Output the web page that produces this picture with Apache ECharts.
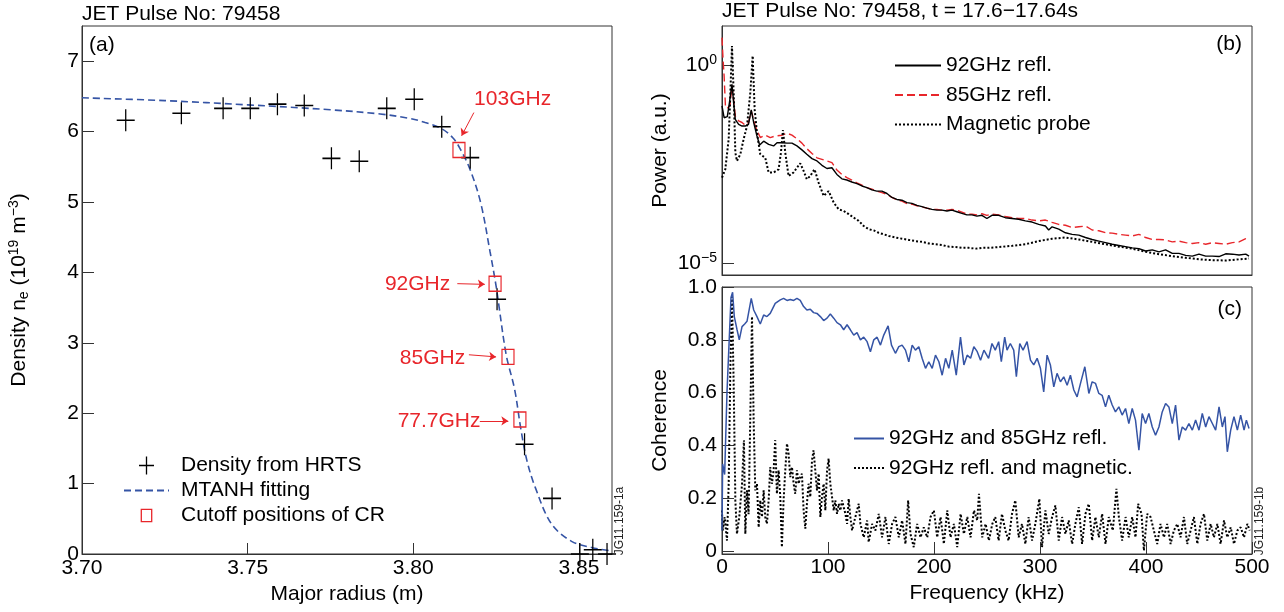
<!DOCTYPE html>
<html>
<head>
<meta charset="utf-8">
<title>JET Pulse No: 79458</title>
<script src="https://cdn.jsdelivr.net/npm/echarts@6/dist/echarts.min.js"></script>
<style>
    html, body { margin: 0; padding: 0; background: #fff; }
    #chart { width: 1284px; height: 612px; }
</style>
</head>
<body>
<div id="chart"></div>
<script>
(function () {

    'use strict';

    // ---- (a) density profile ----
    // HRTS points: major radius (m) / density (1e19 m^-3)
    var hrtsR = [3.7132, 3.7300, 3.7426, 3.7508, 3.7590, 3.7671, 3.7753, 3.7837, 3.7920,
        3.8003, 3.8086, 3.8172, 3.8253, 3.8336, 3.8419, 3.8503, 3.8542, 3.8585];
    var hrtsNe = [6.16, 6.26, 6.33, 6.33, 6.39, 6.37, 5.62, 5.58, 6.33,
        6.46, 6.07, 5.63, 3.62, 1.56, 0.79, 0.00, 0.06, 0.00];

    // MTANH fit
    var fitR = [3.700, 3.725, 3.750, 3.775, 3.790, 3.7986, 3.8036, 3.8086, 3.812, 3.814, 3.817,
        3.8203, 3.8232, 3.825, 3.8257, 3.8281, 3.8306, 3.8325, 3.8343, 3.8368, 3.8417, 3.8478, 3.854, 3.859];
    var fitNe = [6.48, 6.44, 6.38, 6.31, 6.25, 6.19, 6.13, 6.04, 5.91, 5.77, 5.48,
        5.00, 4.29, 3.81, 3.58, 2.82, 2.34, 1.77, 1.33, 0.95, 0.43, 0.18, 0.09, 0.05];

    // cutoff positions of the reflectometer channels
    var cutoffNames = ['103GHz', '92GHz', '85GHz', '77.7GHz'];
    var cutoffR = [3.8138, 3.8247, 3.8286, 3.8322];
    var cutoffNe = [5.74, 3.84, 2.80, 1.91];

    // where each channel name sits, and its arrow (data units)
    var noteR = [3.8300, 3.8013, 3.8058, 3.8078];
    var noteNe = [6.46, 3.83, 2.78, 1.89];
    var arrowFrom = [[3.8183, 6.27], [3.8133, 3.84], [3.8168, 2.83], [3.8201, 1.89]];
    var arrowTo = [[3.8146, 5.94], [3.8216, 3.83], [3.8250, 2.80], [3.8287, 1.89]];

    var radiusTicks = [3.70, 3.75, 3.80, 3.85];
    var densityTicks = [0, 1, 2, 3, 4, 5, 6, 7];

    // ---- (b) power spectra, [kHz, log10 power] ----
    var spec92 = [[0, -1.03], [2, -1.33], [5, -1.30], [7, -0.95], [9.4, -0.49], [11, -0.95], [12.5, -1.37],
        [15.7, -1.50], [18.9, -1.54], [22, -1.54], [25, -1.50], [27.6, -1.13], [29.9, -1.45], [33, -1.79],
        [35.5, -2.02], [39.3, -1.92], [44, -2.00], [48.7, -2.04], [51.9, -1.96], [56.6, -1.96], [61.3, -1.97],
        [66, -1.97], [70.7, -2.04], [75.4, -2.14], [80, -2.25], [84.9, -2.36], [89.6, -2.42], [94.3, -2.53],
        [99, -2.61], [103.7, -2.59], [108.4, -2.76], [113.1, -2.87], [117.8, -2.90], [122.5, -2.95],
        [127.3, -2.99], [132, -3.05], [136.7, -3.09], [141.4, -3.15], [146, -3.18], [150.9, -3.18],
        [155.6, -3.24], [160.3, -3.34], [165, -3.39], [169.7, -3.41], [174.5, -3.47], [179.2, -3.49],
        [183.9, -3.54], [188.6, -3.57], [193.3, -3.61], [198, -3.64], [202.8, -3.66], [207.5, -3.66],
        [212.2, -3.68], [216.9, -3.66], [221.6, -3.70], [226.3, -3.74], [231, -3.78], [235.8, -3.78],
        [240.5, -3.81], [245.2, -3.79], [249.9, -3.87], [254.6, -3.79], [261, -3.79], [267.3, -3.85],
        [273.6, -3.87], [279.9, -3.89], [286.2, -3.93], [292.5, -3.96], [298.8, -4.02], [305.1, -4.06],
        [308.2, -4.16], [311.4, -4.08], [317.7, -4.14], [324, -4.23], [330.3, -4.27], [336.6, -4.29],
        [342.9, -4.35], [349.2, -4.40], [355.5, -4.44], [361.8, -4.48], [368.1, -4.52], [374.4, -4.55],
        [380.7, -4.58], [387, -4.61], [393.3, -4.63], [399.6, -4.69], [405.9, -4.66], [412.2, -4.71],
        [418.5, -4.66], [424.8, -4.75], [431.1, -4.75], [437.4, -4.80], [443.7, -4.82], [450, -4.77],
        [456.3, -4.82], [462.6, -4.82], [468.9, -4.83], [475.2, -4.76], [481.5, -4.77], [487.8, -4.79],
        [494.1, -4.77], [497.2, -4.82]];

    var spec85 = [[0, 0.69], [1, 0.14], [2, -0.28], [3.3, -1.08], [5.4, -1.08], [7.5, -1.03], [9.4, -0.51],
        [11.5, -1.03], [12.6, -1.29], [15.7, -1.41], [18.9, -1.45], [22, -1.52], [25, -1.45], [27.6, -1.16],
        [31.4, -1.54], [36.1, -1.83], [40.8, -1.77], [45.5, -1.83], [50.2, -1.79], [56.6, -1.77], [61.3, -1.72],
        [66, -1.77], [70.7, -1.86], [75.4, -1.97], [80, -2.11], [84.9, -2.23], [89.6, -2.34], [94.3, -2.38],
        [99, -2.42], [103.7, -2.46], [108.4, -2.65], [113.1, -2.76], [117.8, -2.84], [122.5, -2.90],
        [127.3, -2.97], [132, -3.03], [136.7, -3.09], [141.4, -3.13], [146, -3.18], [150.9, -3.22],
        [155.6, -3.26], [160.3, -3.34], [165, -3.40], [169.7, -3.43], [174.5, -3.50], [179.2, -3.51],
        [183.9, -3.55], [188.6, -3.58], [193.3, -3.61], [198, -3.64], [202.8, -3.64], [207.5, -3.66],
        [212.2, -3.66], [216.9, -3.64], [221.6, -3.66], [226.3, -3.71], [231, -3.76], [235.8, -3.76],
        [240.5, -3.78], [245.2, -3.75], [249.9, -3.79], [254.6, -3.76], [261, -3.78], [267.3, -3.82],
        [273.6, -3.85], [279.9, -3.87], [286.2, -3.87], [292.5, -3.91], [298.8, -3.93], [305.1, -3.91],
        [311.4, -3.97], [317.7, -4.02], [324, -4.04], [330.3, -4.10], [336.6, -4.08], [342.9, -4.06],
        [349.2, -4.16], [355.5, -4.18], [361.8, -4.23], [368.1, -4.24], [374.4, -4.27], [380.7, -4.29],
        [387, -4.31], [393.3, -4.27], [399.6, -4.35], [405.9, -4.40], [412.2, -4.40], [418.5, -4.41],
        [424.8, -4.46], [431.1, -4.44], [437.4, -4.48], [443.7, -4.50], [450, -4.48], [456.3, -4.52],
        [462.6, -4.48], [468.9, -4.50], [475.2, -4.52], [481.5, -4.48], [487.8, -4.46], [494.1, -4.38],
        [497.2, -4.44]];

    var specMag = [[0, -2.84], [3.1, -2.63], [6.3, -1.87], [7.9, -0.70], [9.4, 0.48], [11, -0.70], [12.6, -2.21],
        [14.1, -2.42], [17.3, -2.25], [20.4, -1.87], [23.6, -1.54], [26.7, -0.70], [28.9, 0.23], [30.8, -1.12],
        [33, -1.71], [36.1, -2.25], [40.8, -2.34], [44, -2.71], [48.7, -2.71], [53.4, -2.63], [55.6, -2.21],
        [57.5, -1.64], [59.7, -2.21], [62.8, -2.80], [67.5, -2.71], [70.7, -2.59], [73.8, -2.48], [77, -2.67],
        [80, -2.88], [83.2, -2.80], [87.3, -2.63], [91.2, -2.97], [95.9, -3.30], [100.6, -3.18], [105.4, -3.47],
        [110.1, -3.64], [114.8, -3.68], [119.5, -3.76], [124.3, -3.85], [129, -3.93], [133.7, -4.06],
        [138.4, -4.14], [143.1, -4.17], [147.8, -4.23], [152.6, -4.27], [157.3, -4.31], [163.6, -4.35],
        [169.9, -4.38], [176.2, -4.41], [182.5, -4.44], [188.8, -4.46], [195.1, -4.50], [201.4, -4.52],
        [207.7, -4.54], [214, -4.58], [220.3, -4.59], [226.6, -4.61], [232.9, -4.61], [239.2, -4.63],
        [245.5, -4.61], [251.8, -4.61], [261, -4.59], [273.6, -4.56], [286.2, -4.52], [298.8, -4.44],
        [311.4, -4.38], [324, -4.35], [336.6, -4.40], [349.2, -4.46], [361.8, -4.52], [374.4, -4.58],
        [387, -4.63], [399.6, -4.71], [412.2, -4.77], [424.8, -4.82], [437.4, -4.86], [450, -4.90],
        [462.6, -4.92], [475.2, -4.93], [487.8, -4.90], [497.2, -4.88]];

    var powerTicks = [-5, 0];

    // ---- (c) coherence, [kHz, coherence] ----
    var coh9285 = [[0, 0.078], [0.6, 0.33], [2.5, 0.29], [4.7, 0.60], [6.9, 0.81], [8.5, 0.96], [10, 0.98],
        [11.6, 0.888], [14.1, 0.84], [16.3, 0.80], [18.9, 0.85], [21.4, 0.86], [23.6, 0.87], [25.1, 0.875],
        [27.6, 0.957], [29.9, 0.913], [33, 0.888], [36.1, 0.86], [39.3, 0.894], [42.4, 0.888], [45.5, 0.90],
        [50.2, 0.938], [55, 0.951], [58.1, 0.957], [61.3, 0.949], [64.4, 0.953], [67.6, 0.949], [70.7, 0.957],
        [73.8, 0.949], [77, 0.926], [80.1, 0.913], [83.3, 0.916], [86.4, 0.903], [89.6, 0.90], [92.8, 0.888],
        [95.9, 0.873], [99.1, 0.882], [102.2, 0.898], [105.4, 0.882], [108.5, 0.865], [111.7, 0.857],
        [114.8, 0.838], [118, 0.857], [121.1, 0.838], [124.3, 0.818], [127.4, 0.827], [130.6, 0.80],
        [133.7, 0.81], [136.9, 0.793], [140, 0.755], [143.2, 0.80], [146.3, 0.81], [149.5, 0.78],
        [152.6, 0.818], [156.7, 0.853], [159.9, 0.78], [163.6, 0.749], [166.8, 0.774], [169.9, 0.78],
        [173.1, 0.761], [176.2, 0.717], [179.4, 0.78], [182.5, 0.761], [185.7, 0.774], [188.8, 0.73],
        [192, 0.692], [195.1, 0.717], [198.3, 0.692], [201.4, 0.742], [204.6, 0.717], [207.7, 0.666],
        [210.9, 0.73], [214, 0.692], [217.2, 0.761], [221, 0.666], [225, 0.81], [228.2, 0.705], [231.3, 0.742],
        [234.5, 0.73], [237.6, 0.774], [240.8, 0.755], [243.9, 0.723], [247.1, 0.761], [251.5, 0.73],
        [254.7, 0.786], [257.8, 0.761], [261, 0.793], [263.5, 0.717], [266.7, 0.81], [268.9, 0.761],
        [272, 0.786], [275.2, 0.761], [277.7, 0.66], [280.9, 0.786], [284, 0.761], [287.8, 0.793],
        [291, 0.723], [294.1, 0.705], [297.3, 0.73], [300.4, 0.692], [303.5, 0.603], [306.7, 0.742],
        [309.8, 0.705], [313, 0.622], [316.1, 0.673], [319.3, 0.641], [322.4, 0.66], [325.6, 0.628],
        [328.7, 0.666], [331.9, 0.61], [335, 0.584], [338.2, 0.635], [342.3, 0.698], [346.1, 0.597],
        [349.2, 0.641], [352.4, 0.635], [355.5, 0.597], [358.6, 0.59], [361.8, 0.546], [364.9, 0.59],
        [368.1, 0.553], [371.2, 0.527], [374.4, 0.546], [377.5, 0.515], [380.7, 0.54], [383.8, 0.483],
        [387, 0.54], [390.1, 0.496], [393.3, 0.382], [396.4, 0.521], [399.6, 0.483], [402.7, 0.521],
        [405.9, 0.47], [409, 0.439], [412.2, 0.47], [415.3, 0.527], [418.5, 0.559], [421.6, 0.546],
        [424.8, 0.483], [427.9, 0.553], [431.1, 0.42], [434.2, 0.47], [437.4, 0.458], [440.5, 0.483],
        [443.7, 0.458], [446.8, 0.496], [450, 0.458], [453.1, 0.521], [456.3, 0.47], [459.4, 0.509],
        [462.6, 0.483], [465.7, 0.458], [468.9, 0.546], [472, 0.47], [474.5, 0.509], [476.7, 0.376],
        [479.9, 0.458], [483, 0.509], [486.2, 0.458], [489.3, 0.515], [492.5, 0.458], [494.7, 0.496],
        [497.2, 0.464]];

    var cohMag = [[0, 0.154], [0.6, 0.078], [2.5, 0.129], [4.7, 0.04], [6.3, 0.255], [7.9, 0.70], [9.4, 0.963],
        [11, 0.635], [12.6, 0.192], [14.1, 0.065], [16.3, 0.129], [18.9, 0.255], [20.7, 0.42], [22, 0.065],
        [23.6, 0.23], [25.1, 0.14], [26.7, 0.508], [28.3, 0.888], [29.9, 0.483], [31.4, 0.23], [33, 0.255],
        [34.6, 0.09], [36.1, 0.192], [37.7, 0.129], [39.3, 0.23], [40.8, 0.129], [42.4, 0.103], [44, 0.192],
        [45.5, 0.318], [47.1, 0.255], [48.7, 0.306], [50.2, 0.42], [51.8, 0.217], [53.4, 0.306], [55, 0.205],
        [56.5, 0.015], [58.1, 0.192], [59.7, 0.306], [61.3, 0.407], [62.8, 0.369], [64.4, 0.28], [66, 0.318],
        [67.6, 0.255], [69.1, 0.217], [70.7, 0.306], [72.3, 0.255], [73.8, 0.28], [75.4, 0.293], [77, 0.154],
        [78.6, 0.085], [80.1, 0.179], [81.7, 0.255], [83.3, 0.205], [84.9, 0.344], [86.4, 0.382], [88, 0.306],
        [89.6, 0.23], [91.2, 0.293], [92.8, 0.129], [94.3, 0.205], [95.9, 0.255], [97.5, 0.154], [99.1, 0.306],
        [100.6, 0.35], [102.2, 0.255], [103.8, 0.205], [105.4, 0.154], [106.9, 0.192], [108.5, 0.141],
        [110.1, 0.179], [111.7, 0.154], [113.2, 0.192], [116.4, 0.141], [118, 0.103], [119.5, 0.198],
        [121.1, 0.129], [122.7, 0.078], [125.8, 0.129], [129, 0.179], [130.6, 0.103], [133.7, 0.052],
        [136.9, 0.116], [138.4, 0.034], [141.6, 0.103], [144.7, 0.078], [147.9, 0.141], [151, 0.052],
        [154.2, 0.129], [157.3, 0.027], [160.5, 0.103], [163.6, 0.129], [166.8, 0.052], [169.9, 0.116],
        [173.1, 0.027], [175.6, 0.192], [177.8, 0.065], [180.9, 0.015], [184.1, 0.103], [187.3, 0.052],
        [190.4, 0.09], [193.6, 0.052], [196.7, 0.129], [199.9, 0.154], [203, 0.052], [206.2, 0.129],
        [209.3, 0.027], [212.5, 0.154], [215.6, 0.052], [218.8, 0.103], [221.9, 0.015], [225.1, 0.141],
        [228.2, 0.065], [231.4, 0.129], [234.5, 0.052], [237.7, 0.154], [240.8, 0.116], [242.4, 0.217],
        [245.5, 0.052], [248.7, 0.103], [251.8, 0.04], [255, 0.103], [257.8, 0.129], [261, 0.04],
        [264.1, 0.141], [267.3, 0.078], [270.4, 0.04], [273.6, 0.141], [276.7, 0.192], [279.9, 0.052],
        [283, 0.103], [286.2, 0.027], [289.3, 0.129], [292.5, 0.04], [295.6, 0.103], [299.4, 0.198],
        [301.9, 0.015], [305.1, 0.154], [308.2, 0.065], [311.4, 0.129], [314.5, 0.173], [317.7, 0.04],
        [320.8, 0.129], [324, 0.065], [327.1, 0.116], [330.3, 0.027], [333.4, 0.103], [336.6, 0.166],
        [339.7, 0.027], [342.9, 0.141], [346, 0.179], [349.2, 0.04], [352.3, 0.129], [355.5, 0.052],
        [358.6, 0.141], [361.8, 0.027], [364.9, 0.129], [368.7, 0.078], [372.1, 0.236], [374.4, 0.129],
        [377.5, 0.04], [380.7, 0.129], [383.8, 0.052], [387, 0.129], [390.1, 0.052], [392.6, 0.179],
        [395.8, 0.141], [398, 0.002], [401.1, 0.141], [404.3, 0.129], [407.4, 0.078], [410.6, 0.027],
        [413.7, 0.103], [416.9, 0.052], [420, 0.103], [423.2, 0.027], [426.3, 0.078], [429.5, 0.103],
        [432.6, 0.052], [435.8, 0.129], [438.9, 0.027], [442.1, 0.078], [445.2, 0.129], [448.4, 0.027],
        [451.5, 0.103], [454.7, 0.141], [457.8, 0.04], [461, 0.103], [464.1, 0.052], [467.3, 0.103],
        [470.4, 0.027], [473.6, 0.116], [476.7, 0.052], [479.9, 0.09], [483, 0.027], [486.2, 0.078],
        [489.3, 0.09], [492.5, 0.052], [495.6, 0.103], [497.8, 0.078]];

    var freqTicks = [0, 100, 200, 300, 400, 500];
    var cohTicks = [0, 0.2, 0.4, 0.6, 0.8, 1.0];

    var FONT = '"Liberation Sans", Arial, Helvetica, sans-serif',
        RED = '#e8262b',
        BLUE = '#3554a5',
        crossPath = 'path://M0,0L0,22M-9,11L9,11';

    var myChart = echarts.init(document.getElementById('chart'), null, { renderer: 'canvas' });

    function zip(xs, ys) {
        return xs.map(function (x, i) { return [x, ys[i]]; });
    }

    // common axis look: inside ticks, black text, no split lines
    function baseAxis(extra) {
        var axis = {
            type: 'value',
            splitLine: { show: false },
            axisLine: { show: true, onZero: false, lineStyle: { color: '#333', width: 1 } },
            axisTick: { show: true, inside: true, length: 11, lineStyle: { color: '#333', width: 1 } },
            axisLabel: { color: '#000', fontSize: 21, fontFamily: FONT },
            nameTextStyle: { color: '#000', fontSize: 21, fontFamily: FONT },
            nameLocation: 'middle'
        };
        Object.keys(extra).forEach(function (k) {
            if (typeof extra[k] === 'object' && axis[k] && !Array.isArray(extra[k])) {
                axis[k] = Object.assign({}, axis[k], extra[k]);
            } else {
                axis[k] = extra[k];
            }
        });
        return axis;
    }

    // line series: the legend draws a marker on the line, keep it invisible
    function lineSeries(name, axisIdx, data, lineStyle, z) {
        return {
            name: name, type: 'line', xAxisIndex: axisIdx, yAxisIndex: axisIdx,
            data: data, symbol: 'none', lineStyle: lineStyle,
            itemStyle: { color: 'transparent', borderColor: 'transparent' }, z: z
        };
    }

    var supRich = {
        sub: { fontSize: 14, fontFamily: FONT, verticalAlign: 'bottom', lineHeight: 12 },
        sup: { fontSize: 14, fontFamily: FONT, verticalAlign: 'top', lineHeight: 14 },
        b: { fontSize: 21, fontFamily: FONT, lineHeight: 24 }
    };

    var noteData = noteR.map(function (r, i) { return [r, noteNe[i], cutoffNames[i]]; });
    var arrowData = arrowFrom.map(function (p, i) {
        return [{ coord: p }, { coord: arrowTo[i] }];
    });

    var legendText = { color: '#000', fontSize: 21, fontFamily: FONT, lineHeight: 20 };

    var option = {
        animation: false,
        backgroundColor: '#fff',
        grid: [
            { left: 82, top: 26, width: 530, height: 528, show: true, borderColor: '#333', borderWidth: 1, outerBoundsMode: 'none' },
            { left: 722, top: 26, width: 530, height: 249, show: true, borderColor: '#333', borderWidth: 1, outerBoundsMode: 'none' },
            { left: 722, top: 287, width: 530, height: 267, show: true, borderColor: '#333', borderWidth: 1, outerBoundsMode: 'none' }
        ],
        xAxis: [
            baseAxis({
                gridIndex: 0, min: 3.70, max: 3.86,
                name: 'Major radius (m)', nameGap: 29,
                axisTick: { customValues: radiusTicks },
                axisLabel: { customValues: radiusTicks, margin: 4, formatter: function (v) { return v.toFixed(2); } }
            }),
            baseAxis({
                gridIndex: 1, min: 0, max: 500,
                axisTick: { show: false },
                axisLabel: { show: false }
            }),
            baseAxis({
                gridIndex: 2, min: 0, max: 500,
                name: 'Frequency (kHz)', nameGap: 29,
                axisTick: { customValues: freqTicks, length: 12 },
                axisLabel: { customValues: freqTicks, margin: 3 }
            })
        ],
        yAxis: [
            baseAxis({
                gridIndex: 0, min: 0, max: 7.5,
                name: 'Density n{sub|e} (10{sup|19} m{sup|\u22123})', nameGap: 51,
                nameTextStyle: { lineHeight: 24, rich: supRich },
                axisTick: { customValues: densityTicks, length: 12 },
                axisLabel: { customValues: densityTicks, margin: 3 }
            }),
            baseAxis({
                gridIndex: 1, min: -5.295, max: 0.983,
                name: 'Power (a.u.)', nameGap: 51,
                axisTick: { customValues: powerTicks, length: 12 },
                axisLabel: {
                    customValues: powerTicks, margin: 5, rich: supRich,
                    formatter: function (v) {
                        return '{b|10}{sup|' + (v === 0 ? '0' : '\u2212' + Math.abs(v)) + '}';
                    }
                }
            }),
            baseAxis({
                gridIndex: 2, min: -0.011, max: 1.0,
                name: 'Coherence', nameGap: 51,
                axisTick: { customValues: cohTicks, length: 12 },
                axisLabel: {
                    customValues: cohTicks, margin: 5,
                    formatter: function (v) { return v === 0 ? '0' : v.toFixed(1); }
                }
            })
        ],
        legend: [
            {
                orient: 'vertical', left: 118, top: 450, selectedMode: false,
                itemWidth: 45, itemHeight: 18, itemGap: 4,
                textStyle: { color: '#000', fontSize: 21, fontFamily: FONT, lineHeight: 21, padding: [0, 0, 0, 7] },
                data: [
                    { name: 'Density from HRTS', icon: 'path://M0,0L0,18M-7.5,9L7.5,9',
                        itemStyle: { color: 'transparent', borderColor: '#000', borderWidth: 1.3, opacity: 1 } },
                    { name: 'MTANH fitting' },
                    { name: 'Cutoff positions of CR', icon: 'path://M0,0M15,18M2.3,2.85L12.7,2.85L12.7,15.15L2.3,15.15Z',
                        itemStyle: { color: 'transparent', borderColor: RED, borderWidth: 1.3, opacity: 1 } }
                ]
            },
            {
                orient: 'vertical', left: 889, top: 50, selectedMode: false,
                itemWidth: 46, itemHeight: 14, itemGap: 8.5,
                textStyle: legendText,
                data: ['92GHz refl.', '85GHz refl.', 'Magnetic probe']
            },
            {
                orient: 'vertical', left: 848, top: 423, selectedMode: false,
                itemWidth: 30, itemHeight: 14, itemGap: 8.5,
                textStyle: legendText,
                data: ['92GHz and 85GHz refl.', '92GHz refl. and magnetic.']
            }
        ],
        series: [
            // (a)
            Object.assign(lineSeries('MTANH fitting', 0, zip(fitR, fitNe),
                { color: BLUE, width: 1.6, type: [7, 4] }, 2), { smooth: 0.35 }),
            {
                name: 'Density from HRTS', type: 'scatter', xAxisIndex: 0, yAxisIndex: 0,
                data: zip(hrtsR, hrtsNe), symbol: crossPath, symbolSize: [18, 22],
                itemStyle: { color: 'transparent', borderColor: '#000', borderWidth: 1.4, opacity: 1 }, z: 3
            },
            {
                name: 'Cutoff positions of CR', type: 'scatter', xAxisIndex: 0, yAxisIndex: 0,
                data: zip(cutoffR, cutoffNe), symbol: 'rect', symbolSize: [12, 15],
                itemStyle: { color: 'transparent', borderColor: RED, borderWidth: 1.3, opacity: 1 }, z: 4
            },
            {
                name: 'notes', type: 'scatter', xAxisIndex: 0, yAxisIndex: 0, silent: true,
                data: noteData, symbolSize: 1, itemStyle: { color: 'transparent', opacity: 1 },
                label: {
                    show: true, position: 'inside', color: RED, fontSize: 21, fontFamily: FONT,
                    textBorderWidth: 0, opacity: 1,
                    formatter: function (p) { return p.value[2]; }
                },
                markLine: {
                    silent: true, symbol: ['none', 'arrow'], symbolSize: 7,
                    label: { show: false },
                    lineStyle: { color: RED, width: 1, type: 'solid', opacity: 1 },
                    data: arrowData
                }
            },
            // (b)
            lineSeries('92GHz refl.', 1, spec92, { color: '#000', width: 1.4 }, 3),
            lineSeries('85GHz refl.', 1, spec85, { color: RED, width: 1.4, type: [8, 4] }, 2),
            lineSeries('Magnetic probe', 1, specMag, { color: '#000', width: 2, type: [2, 2] }, 2),
            // (c)
            lineSeries('92GHz and 85GHz refl.', 2, coh9285, { color: BLUE, width: 1.5 }, 3),
            lineSeries('92GHz refl. and magnetic.', 2, cohMag, { color: '#000', width: 2, type: [2, 2] }, 2)
        ],
        graphic: [
            { type: 'text', x: 82, y: 14, style: { text: 'JET Pulse No: 79458', font: '21px ' + FONT, fill: '#000', align: 'left', verticalAlign: 'middle' } },
            { type: 'text', x: 722, y: 11, style: { text: 'JET Pulse No: 79458, t = 17.6\u221217.64s', font: '21px ' + FONT, fill: '#000', align: 'left', verticalAlign: 'middle' } },
            { type: 'text', x: 89, y: 45, style: { text: '(a)', font: '21px ' + FONT, fill: '#000', align: 'left', verticalAlign: 'middle' } },
            { type: 'text', x: 1242, y: 44, style: { text: '(b)', font: '21px ' + FONT, fill: '#000', align: 'right', verticalAlign: 'middle' } },
            { type: 'text', x: 1242, y: 309, style: { text: '(c)', font: '21px ' + FONT, fill: '#000', align: 'right', verticalAlign: 'middle' } },
            { type: 'text', x: 620, y: 521, rotation: Math.PI / 2, style: { text: 'JG11.159-1a', font: '12px ' + FONT, fill: '#222', align: 'center', verticalAlign: 'middle' } },
            { type: 'text', x: 1260, y: 521, rotation: Math.PI / 2, style: { text: 'JG11.159-1b', font: '12px ' + FONT, fill: '#222', align: 'center', verticalAlign: 'middle' } }
        ]
    };

    myChart.setOption(option);
})();
</script>
</body>
</html>
